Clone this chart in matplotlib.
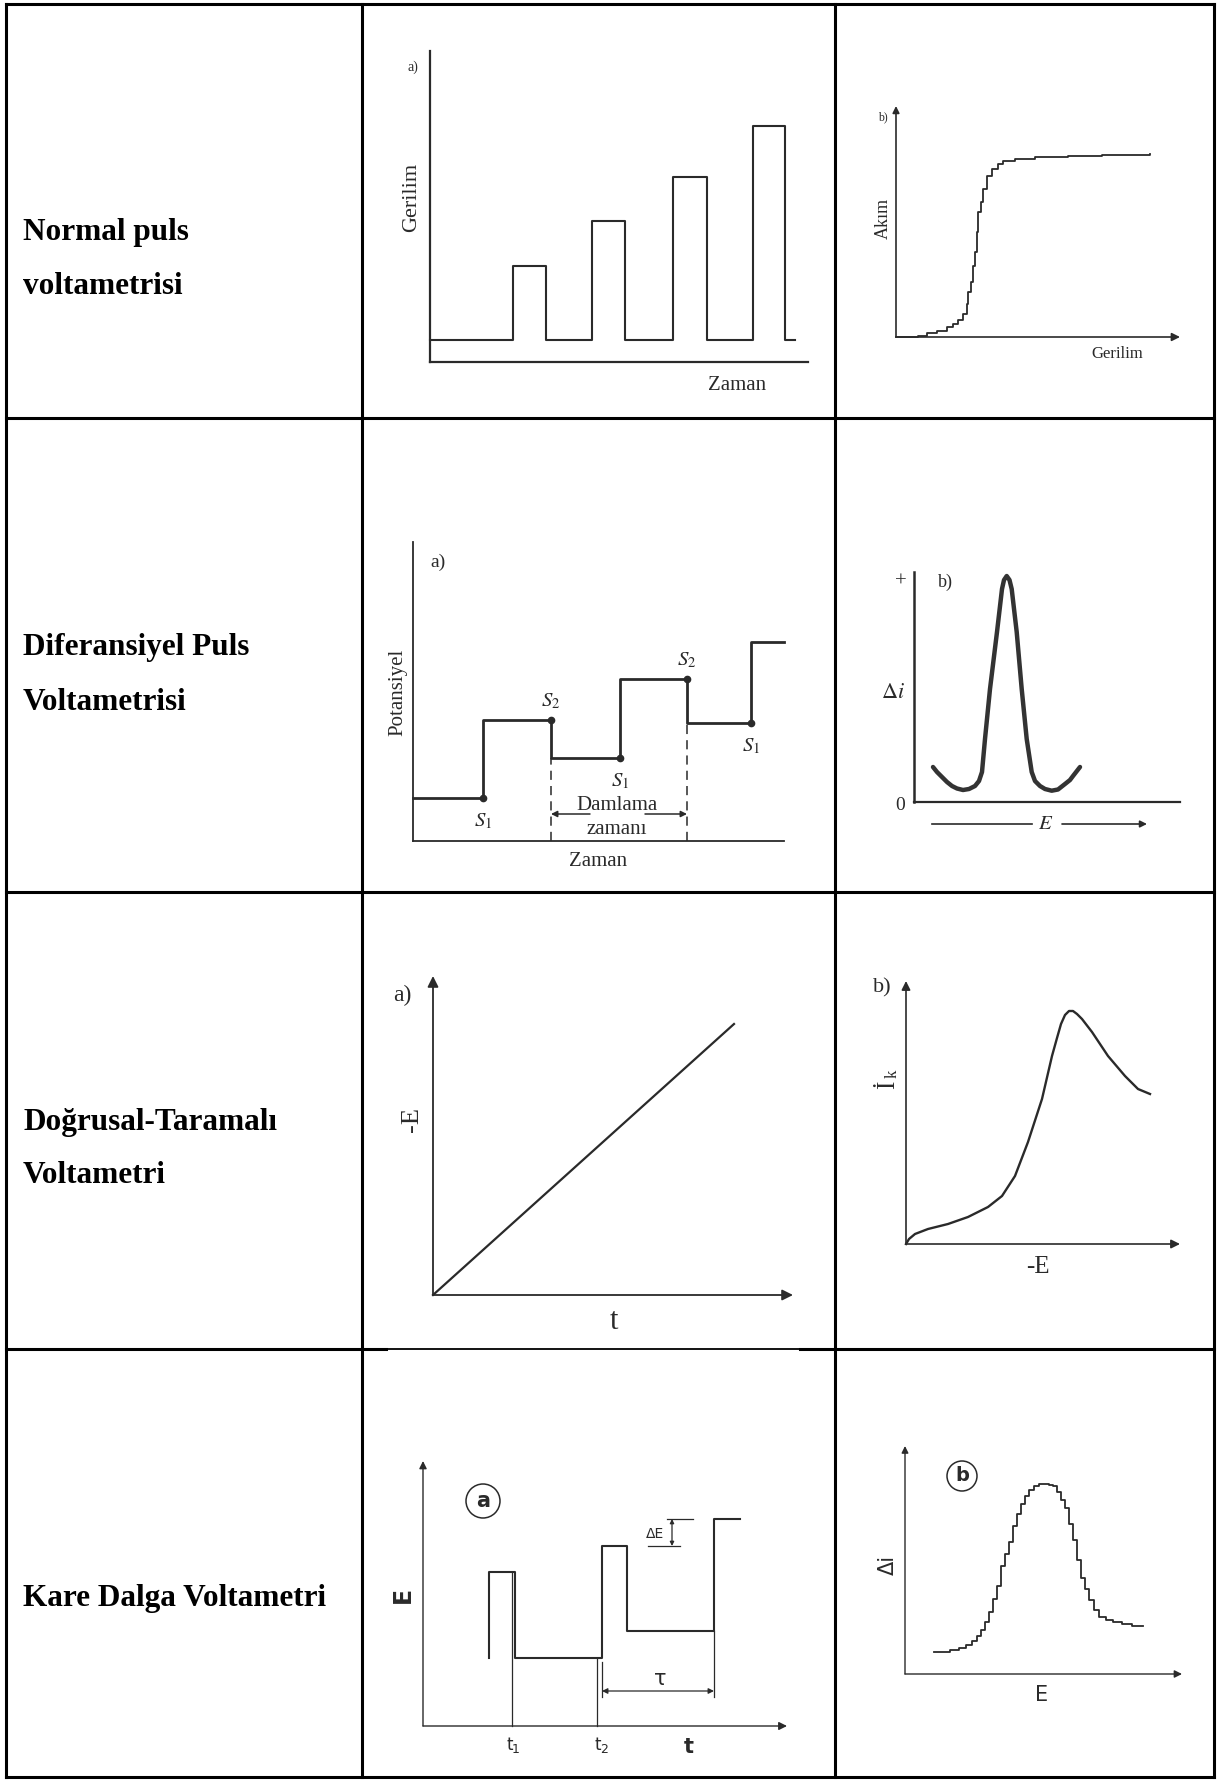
import matplotlib
matplotlib.use('Agg')
import matplotlib.pyplot as plt
from matplotlib.patches import Circle

W, H = 1219, 1781
DPI = 100
INK = '#2a2a2a'
SERIF = 'Liberation Serif'
SANS = 'DejaVu Sans'

plt.rcParams['mathtext.fontset'] = 'stix'

# table grid, in pixels
col_edges = [6, 362, 835, 1214]
row_edges = [5, 419, 893, 1350, 1778]

row_titles = [
    ['Normal puls', 'voltametrisi'],
    ['Diferansiyel Puls', 'Voltametrisi'],
    ['Doğrusal-Taramalı', 'Voltametri'],
    ['Kare Dalga Voltametri'],
]
title_baselines = [[240, 294], [655, 710], [1130, 1183], [1606]]

# normal pulse: potential program (time / potential, arbitrary units)
npv_base = 22
npv_onset = [83, 162, 243, 323]
npv_offset = [116, 195, 277, 355]
npv_top = [96, 141, 185, 236]
npv_stop = 365

# normal pulse: sampled current vs potential (staircase)
npv_e = [0, 22, 31, 41, 51, 57, 62, 67, 71, 72, 75, 77, 79, 81, 82, 85, 87,
         91, 96, 102, 107, 119, 139, 172, 206, 254]
npv_i = [0, 1, 4, 6, 10, 13, 17, 23, 33, 45, 55, 71, 85, 105, 125, 135, 148,
         161, 168, 173, 176, 178, 180, 181, 182, 183]

# differential pulse: potential program
dpv_t = [0, 70, 138, 207, 274, 338, 371]
dpv_E = [43, 121, 83, 162, 118, 199, 199]
dpv_sample_t = [70, 138, 207, 274, 338]
dpv_sample_E = [43, 121, 83, 162, 118]
dpv_sample_lbl = ['$S_1$', '$S_2$', '$S_1$', '$S_2$', '$S_1$']
dpv_drop_t = [138, 274]
dpv_drop_E = [83, 118]

# differential pulse: current difference vs potential
dpv_e = [19, 23, 28, 33, 38, 43, 49, 55, 61, 65, 68, 71, 76, 83, 88, 90,
         92.7, 95.5, 97.7, 102.7, 107.7, 112.7, 117.7, 121, 126, 131, 137.7,
         144, 151, 156, 159, 166]
dpv_di = [35, 30, 25, 20, 16, 13.5, 12, 13, 16, 21, 30, 63, 113, 170, 213,
          222, 226, 222, 213, 170, 113, 63, 30, 21, 16, 13, 11.3, 12.5, 18,
          22, 26, 35]

# linear sweep: potential ramp and current response
lsv_t = [0, 301]
lsv_E = [0, 271]
lsv_e = [0, 3, 9, 22, 42, 62, 82, 96, 109, 122, 136, 146, 151, 155, 159, 163,
         167, 171, 176, 186, 202, 219, 232, 244]
lsv_i = [0, 5, 10, 15, 20, 27, 37, 48, 68, 102, 145, 188, 206, 220, 229, 233,
         233, 230, 225, 212, 188, 168, 155, 150]

# square wave: potential program
swv_t = [66, 66, 92, 179, 204, 291, 317]
swv_E = [68, 154, 68, 180, 95, 207, 207]
swv_t1, swv_t2 = 89, 174
swv_tau = [179, 291]
swv_dE = [180, 207]

# square wave: current difference vs potential (staircase)
swv_e = [29, 40, 50, 58, 64, 70, 74, 78, 82, 86, 90, 94, 98, 102, 106, 110,
         114, 118, 122, 126, 131, 136, 141, 146, 150, 154, 158, 162, 166, 170,
         174, 178, 182, 186, 191, 197, 204, 212, 222, 232, 238]
swv_di = [22, 22, 24, 26, 29, 33, 38, 44, 52, 62, 75, 88, 108, 120, 132, 148,
          160, 170, 178, 184, 188, 190, 190, 189, 188, 182, 174, 166, 150, 134,
          114, 96, 85, 74, 64, 57, 54, 52, 50, 48.5, 48]


fig = plt.figure(figsize=(W / DPI, H / DPI), dpi=DPI)

# table frame and row titles
grid = fig.add_axes([0, 0, 1, 1])
grid.set_xlim(0, W)
grid.set_ylim(H, 0)
grid.axis('off')
for x in col_edges:
    grid.plot([x, x], [row_edges[0], row_edges[-1]], color='black', lw=2.2,
              solid_capstyle='projecting')
for i, y in enumerate(row_edges):
    if i == 3:
        # this stretch of the rule is thinner
        grid.plot([col_edges[0], 386], [y, y], color='black', lw=2.2)
        grid.plot([386, 800], [y, y], color='black', lw=1.3)
        grid.plot([800, col_edges[-1]], [y, y], color='black', lw=2.2)
    else:
        grid.plot([col_edges[0], col_edges[-1]], [y, y], color='black', lw=2.2,
                  solid_capstyle='projecting')
for lines, bases in zip(row_titles, title_baselines):
    for line, base in zip(lines, bases):
        grid.text(23, base, line, fontsize=22.5, fontweight='bold',
                  family=SERIF, va='baseline', ha='left', color='black')


def panel(ox, oy, w, h):
    ax = fig.add_axes([ox / W, (H - oy) / H, w / W, h / H])
    ax.set_xlim(0, w)
    ax.set_ylim(0, h)
    ax.axis('off')
    return ax


def arrow(ax, x0, y0, x1, y1, lw=1.2, style='-|>', scale=14, color=INK):
    ax.annotate('', xy=(x1, y1), xytext=(x0, y0),
                arrowprops=dict(arrowstyle=style, color=color, lw=lw,
                                shrinkA=0, shrinkB=0, mutation_scale=scale),
                annotation_clip=False)


def label(ax, x, y, s, size, family=SERIF, **kw):
    kw.setdefault('ha', 'center')
    kw.setdefault('va', 'center')
    ax.text(x, y, s, fontsize=size, family=family, color=INK, **kw)


# --- Normal puls: a) potential program
w, h = 378, 311
ax = panel(430, 363, w, h)
ax.plot([0, 0], [0, h], color=INK, lw=1.6)
ax.plot([0, w], [0, 0], color=INK, lw=1.6)
px, py = [0], [npv_base]
for on, off, top in zip(npv_onset, npv_offset, npv_top):
    px += [on, on, off, off]
    py += [npv_base, top, top, npv_base]
px.append(npv_stop)
py.append(npv_base)
ax.plot(px, py, color=INK, lw=1.5)
label(ax, -17, 296, 'a)', 10)
label(ax, -18, 166, 'Gerilim', 16, rotation=90)
label(ax, 307, -22, 'Zaman', 15)

# --- Normal puls: b) current
w, h = 284, 231
ax = panel(896, 338, w, h)
arrow(ax, 0, 0, 0, h, lw=1.2, scale=10)
arrow(ax, 0, 0, w, 0, lw=1.2, scale=12)
ax.plot(npv_e, npv_i, drawstyle='steps-post', color=INK, lw=1.3)
label(ax, -13, 221, 'b)', 8.5)
label(ax, -13, 120, 'Akım', 13, rotation=90)
label(ax, 221, -16, 'Gerilim', 12)

# --- Diferansiyel puls: a) potential program
w, h = 371, 299
ax = panel(413, 842, w, h)
ax.plot([0, 0], [0, h], color=INK, lw=1.3)
ax.plot([0, w], [0, 0], color=INK, lw=1.3)
ax.plot(dpv_t, dpv_E, drawstyle='steps-post', color=INK, lw=2.0)
ax.plot(dpv_sample_t, dpv_sample_E, 'o', color=INK, ms=4.5)
for t, e, s in zip(dpv_sample_t, dpv_sample_E, dpv_sample_lbl):
    dy = 20 if s == '$S_2$' else -22
    label(ax, t, e + dy, s, 15)
for t, e in zip(dpv_drop_t, dpv_drop_E):
    ax.plot([t, t], [0, e], color=INK, lw=1.1, ls=(0, (6, 4)))
arrow(ax, 177, 27, dpv_drop_t[0], 27, lw=1.1, scale=9)
arrow(ax, 232, 27, dpv_drop_t[1], 27, lw=1.1, scale=9)
label(ax, 204, 37, 'Damlama', 15)
label(ax, 204, 12, 'zamanı', 15)
label(ax, 185, -19, 'Zaman', 15)
label(ax, 25, 280, 'a)', 14)
label(ax, -15, 150, 'Potansiyel', 15, rotation=90)

# --- Diferansiyel puls: b) current difference
w, h = 266, 230
ax = panel(914, 803, w, h)
ax.plot([0, 0], [0, h], color=INK, lw=1.8)
ax.plot([0, w], [0, 0], color=INK, lw=1.6)
ax.plot(dpv_e, dpv_di, color='#333333', lw=3.2, solid_capstyle='round',
        solid_joinstyle='round')
ax.plot([18, 118], [-22, -22], color=INK, lw=1.2)
arrow(ax, 148, -22, 233, -22, lw=1.2, scale=10)
label(ax, 132, -22, '$E$', 15)
label(ax, -13, 221, '+', 15)
label(ax, -14, -3, '0', 14)
label(ax, -21, 110, r'$\Delta i$', 16)
label(ax, 31, 221, 'b)', 13)

# --- Dogrusal taramali: a) potential ramp
w, h = 360, 319
ax = panel(433, 1296, w, h)
arrow(ax, 0, 0, 0, h, lw=1.3, scale=16)
arrow(ax, 0, 0, w, 0, lw=1.3, scale=16)
ax.plot(lsv_t, lsv_E, color=INK, lw=1.6)
label(ax, -31, 301, 'a)', 17)
label(ax, -21, 176, '-E', 19, rotation=90)
label(ax, 181, -26, 't', 22)

# --- Dogrusal taramali: b) current
w, h = 274, 263
ax = panel(906, 1245, w, h)
arrow(ax, 0, 0, 0, h, lw=1.2, scale=13)
arrow(ax, 0, 0, w, 0, lw=1.2, scale=13)
ax.plot(lsv_e, lsv_i, color=INK, lw=1.7)
label(ax, -24, 257, 'b)', 16)
label(ax, -18, 160, 'İ', 18, rotation=90)
label(ax, -13, 171, 'k', 12, rotation=90)
label(ax, 132, -22, '-E', 18)

# --- Kare dalga: a) potential program
w, h = 364, 265
ax = panel(423, 1727, w, h)
arrow(ax, 0, 0, 0, h, lw=1.0, scale=11)
arrow(ax, 0, 0, w, 0, lw=1.0, scale=12)
ax.plot(swv_t, swv_E, drawstyle='steps-post', color=INK, lw=1.5)
ax.plot([swv_t1, swv_t1], [0, swv_E[1]], color=INK, lw=0.9)
ax.plot([swv_t2, swv_t2], [0, swv_E[2]], color=INK, lw=0.9)
ax.plot([swv_tau[0], swv_tau[0]], [29, 64], color=INK, lw=0.9)
ax.plot([swv_tau[1], swv_tau[1]], [29, swv_E[4]], color=INK, lw=0.9)
arrow(ax, swv_tau[0], 35, swv_tau[1], 35, lw=0.9, style='<|-|>', scale=8)
label(ax, 237, 48, 'τ', 15, family=SANS)
ax.plot([244, 270], [swv_dE[1], swv_dE[1]], color=INK, lw=0.9)
ax.plot([225, 257], [swv_dE[0], swv_dE[0]], color=INK, lw=0.9)
arrow(ax, 249, swv_dE[0], 249, swv_dE[1], lw=0.9, style='<|-|>', scale=6)
label(ax, 232, 193, 'ΔE', 10, family=SANS)
ax.add_patch(Circle((60, 225), 17, fill=False, ec=INK, lw=1.1, clip_on=False))
label(ax, 60, 226, 'a', 15, family=SANS, fontweight='bold')
label(ax, -20, 132, 'E', 17, family=SANS, rotation=90, fontweight='bold')
for tx, sub in [(swv_t1, '1'), (swv_t2 + 3, '2')]:
    label(ax, tx - 2, -18, 't', 12, family=SANS)
    label(ax, tx + 4, -23, sub, 9, family=SANS)
label(ax, 266, -20, 't', 15, family=SANS, fontweight='bold')

# --- Kare dalga: b) current difference
w, h = 277, 228
ax = panel(905, 1675, w, h)
arrow(ax, 0, 0, 0, h, lw=1.0, scale=10)
arrow(ax, 0, 0, w, 0, lw=1.0, scale=11)
ax.plot(swv_e, swv_di, drawstyle='steps-mid', color=INK, lw=1.3)
ax.add_patch(Circle((57, 198), 15, fill=False, ec=INK, lw=1.1, clip_on=False))
label(ax, 57, 199, 'b', 14, family=SANS, fontweight='bold')
label(ax, -17, 110, 'Δi', 15, family=SANS, rotation=90)
label(ax, 137, -20, 'E', 15, family=SANS)

# axis lines sit on the panel edges, so nothing gets clipped
for a in fig.axes:
    for ln in a.lines:
        ln.set_clip_on(False)

fig.savefig('out.png', dpi=DPI, facecolor='white')
